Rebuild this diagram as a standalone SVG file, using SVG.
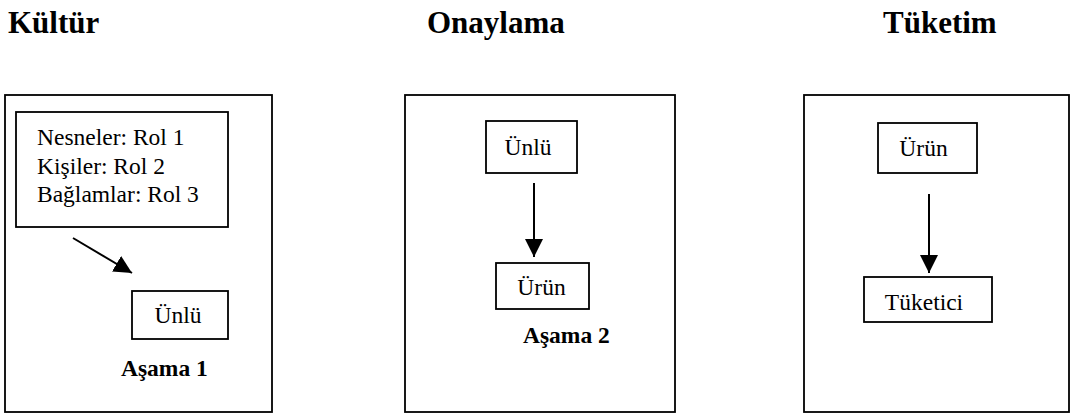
<svg xmlns="http://www.w3.org/2000/svg" width="1071" height="414" viewBox="0 0 1071 414">
<style>
.title{font-family:"Liberation Serif","Times New Roman",serif;font-weight:bold;font-size:31px;fill:#000}
.t{font-family:"Liberation Serif","Times New Roman",serif;font-size:23.5px;fill:#000}
.tc{font-family:"Liberation Serif","Times New Roman",serif;font-size:23.5px;fill:#000;text-anchor:middle}
.b{font-family:"Liberation Serif","Times New Roman",serif;font-size:23.5px;font-weight:bold;fill:#000}
.frame{fill:#fff;stroke:#000;stroke-width:1.8}
.box{fill:#fff;stroke:#000;stroke-width:1.8}
.arr{stroke:#000;stroke-width:2;fill:none;marker-end:url(#ah)}
</style>
<defs>
<marker id="ah" markerUnits="userSpaceOnUse" markerWidth="18" markerHeight="18" refX="16" refY="8" orient="auto" viewBox="0 0 16 16">
<path d="M0,0 L16,8 L0,16 z" fill="#000"/>
</marker>
</defs>
<rect width="1071" height="414" fill="#fff"/>
<g id="titles">
<text class="title" x="8" y="33">Kültür</text>
<text class="title" x="427" y="33">Onaylama</text>
<text class="title" x="883" y="33">Tüketim</text>
</g>
<g id="panel1">
<rect class="frame" x="5" y="95" width="267" height="317"/>
</g>
<g id="panel2">
<rect class="frame" x="405" y="95" width="270" height="317"/>
</g>
<g id="panel3">
<rect class="frame" x="804" y="95" width="265" height="317"/>
</g>
<g id="roles">
<rect class="box" x="16" y="112" width="212" height="115"/>
<text class="t" x="37" y="145">Nesneler: Rol 1</text>
<text class="t" x="37" y="174">Kişiler: Rol 2</text>
<text class="t" x="37" y="202">Bağlamlar: Rol 3</text>
</g>
<g id="unlu1">
<rect class="box" x="132" y="291" width="96" height="48"/>
<text class="tc" x="178" y="323">Ünlü</text>
</g>
<g id="asama1"><text class="b" x="121" y="376">Aşama 1</text></g>
<g id="unlu2">
<rect class="box" x="486" y="121" width="91" height="52"/>
<text class="tc" x="528" y="155">Ünlü</text>
</g>
<g id="urun2">
<rect class="box" x="496" y="263" width="93" height="46"/>
<text class="tc" x="541.5" y="295">Ürün</text>
</g>
<g id="asama2"><text class="b" x="523" y="343">Aşama 2</text></g>
<g id="urun3">
<rect class="box" x="878" y="123" width="99" height="50"/>
<text class="tc" x="923.5" y="156">Ürün</text>
</g>
<g id="tuketici">
<rect class="box" x="864" y="277" width="128" height="45"/>
<text class="tc" x="924" y="310">Tüketici</text>
</g>
<g id="connectors">
<line class="arr" x1="73" y1="238" x2="132" y2="273"/>
<line class="arr" x1="534" y1="183" x2="534" y2="257"/>
<line class="arr" x1="929" y1="194" x2="929" y2="273"/>
</g>
</svg>
